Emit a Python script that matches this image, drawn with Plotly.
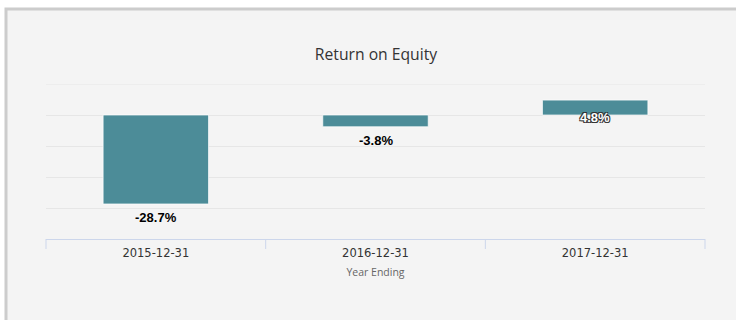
import plotly.graph_objects as go

# Return on equity by fiscal year end (percent)
years = ["2015-12-31", "2016-12-31", "2017-12-31"]
roe = [-28.7, -3.8, 4.8]
y_ticks = [-40, -30, -20, -10, 0, 10]

BAR = "#4c8c98"
GRID = "#e6e6e6"
W, H = 736, 320
ML, MR, MT, MB = 46, 31, 84, 81
PW, PH = W - ML - MR, H - MT - MB


def px_x(p):
    return (p - ML) / PW


def px_y(p):
    return (H - MB - p) / PH


fig = go.Figure(
    go.Bar(
        x=years,
        y=roe,
        width=0.48,
        marker=dict(color=BAR, line=dict(color="rgba(255,255,255,0.7)", width=1)),
        hoverinfo="skip",
    )
)

# Value labels: below negative bars, outlined white at the base of positive ones
outline = "-1px -1px 0 #333, 1px -1px 0 #333, -1px 1px 0 #333, 1px 1px 0 #333"
for x, v in zip(years, roe):
    if v < 0:
        fig.add_annotation(
            x=x, y=v, text=f"{v:.1f}%", showarrow=False, yanchor="top", yshift=-4,
            font=dict(family="Liberation Sans, Arial, sans-serif", size=13, color="#000000",
                      weight="bold"),
        )
    else:
        fig.add_annotation(
            x=x, y=0, text=f"{v:.1f}%", showarrow=False, yanchor="middle", yshift=-2,
            font=dict(family="Liberation Sans, Arial, sans-serif", size=13, color="#ffffff",
                      weight="bold", shadow=outline),
        )

shapes = [
    # panel background with its grey frame
    dict(type="rect", xref="paper", yref="paper", layer="below",
         x0=px_x(6), x1=px_x(745), y0=px_y(330), y1=px_y(9),
         fillcolor="#f4f4f4", line=dict(color="#cccccc", width=3)),
    # gridline at the top of the value range
    dict(type="line", xref="paper", yref="y", layer="below",
         x0=0, x1=1, y0=max(y_ticks), y1=max(y_ticks),
         line=dict(color=GRID, width=1)),
]
# category boundary tick marks under the axis line
for i in range(len(years) + 1):
    xp = i / len(years)
    shapes.append(dict(type="line", xref="paper", yref="paper",
                       x0=xp, x1=xp, y0=0, y1=-10 / PH,
                       line=dict(color="#ccd6eb", width=1)))

fig.update_layout(
    width=W, height=H,
    margin=dict(l=ML, r=MR, t=MT, b=MB),
    paper_bgcolor="#ffffff",
    plot_bgcolor="rgba(0,0,0,0)",
    showlegend=False,
    shapes=shapes,
    title=dict(text="Return on Equity", x=px_x(376), xref="paper", xanchor="center",
               y=1 - 55 / H, yref="container", yanchor="middle",
               font=dict(family="Open Sans, sans-serif", size=15.7, color="#333333")),
    bargap=0.52,
)

fig.update_xaxes(
    type="category",
    showline=True, linecolor="#ccd6eb", linewidth=1,
    showgrid=False, ticks="", ticklabelstandoff=3,
    tickfont=dict(family="DejaVu Sans, sans-serif", size=11.5, color="#333333"),
    title=dict(text="Year Ending", standoff=9,
               font=dict(family="Open Sans, sans-serif", size=10.5, color="#666666")),
)
fig.update_yaxes(
    range=[-40, 10], tickvals=y_ticks, showticklabels=False,
    showgrid=True, gridcolor=GRID, gridwidth=1,
    zeroline=False, showline=False, ticks="",
)

fig.write_html("out.html")
